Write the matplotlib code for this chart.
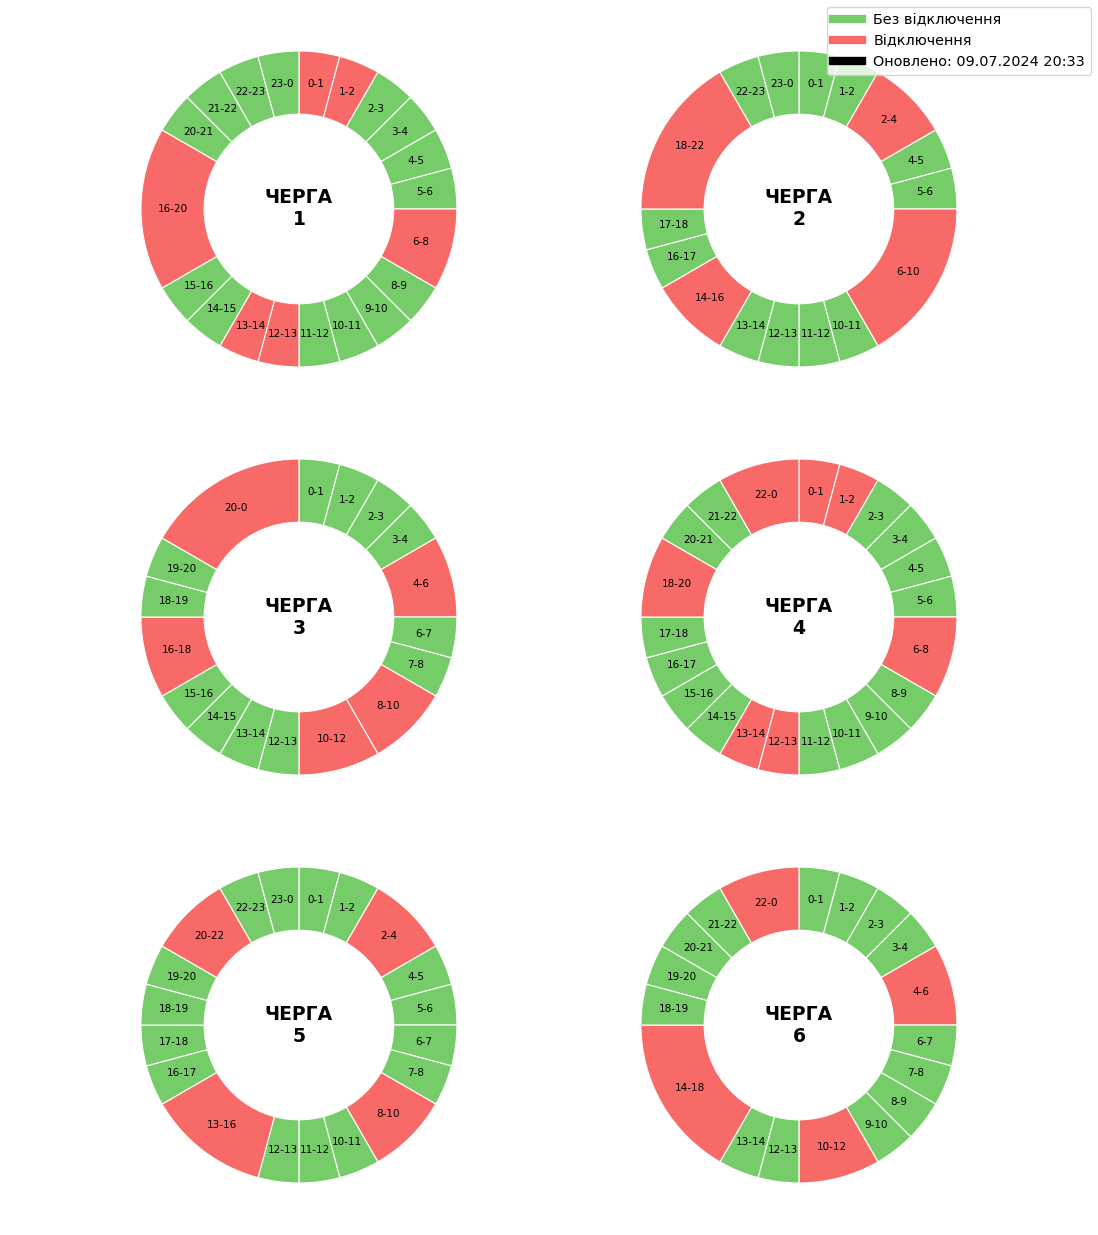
import matplotlib.pyplot as plt
from matplotlib.lines import Line2D

GREEN = '#77cc6a'
RED = '#f76a67'

# (label, hours, off) for every queue; off = 1 means outage
queue1_labels = ['0-1', '1-2', '2-3', '3-4', '4-5', '5-6', '6-8', '8-9', '9-10', '10-11', '11-12',
                 '12-13', '13-14', '14-15', '15-16', '16-20', '20-21', '21-22', '22-23', '23-0']
queue1_hours = [1, 1, 1, 1, 1, 1, 2, 1, 1, 1, 1, 1, 1, 1, 1, 4, 1, 1, 1, 1]
queue1_off = [1, 1, 0, 0, 0, 0, 1, 0, 0, 0, 0, 1, 1, 0, 0, 1, 0, 0, 0, 0]

queue2_labels = ['0-1', '1-2', '2-4', '4-5', '5-6', '6-10', '10-11', '11-12', '12-13', '13-14',
                 '14-16', '16-17', '17-18', '18-22', '22-23', '23-0']
queue2_hours = [1, 1, 2, 1, 1, 4, 1, 1, 1, 1, 2, 1, 1, 4, 1, 1]
queue2_off = [0, 0, 1, 0, 0, 1, 0, 0, 0, 0, 1, 0, 0, 1, 0, 0]

queue3_labels = ['0-1', '1-2', '2-3', '3-4', '4-6', '6-7', '7-8', '8-10', '10-12', '12-13',
                 '13-14', '14-15', '15-16', '16-18', '18-19', '19-20', '20-0']
queue3_hours = [1, 1, 1, 1, 2, 1, 1, 2, 2, 1, 1, 1, 1, 2, 1, 1, 4]
queue3_off = [0, 0, 0, 0, 1, 0, 0, 1, 1, 0, 0, 0, 0, 1, 0, 0, 1]

queue4_labels = ['0-1', '1-2', '2-3', '3-4', '4-5', '5-6', '6-8', '8-9', '9-10', '10-11', '11-12',
                 '12-13', '13-14', '14-15', '15-16', '16-17', '17-18', '18-20', '20-21', '21-22', '22-0']
queue4_hours = [1, 1, 1, 1, 1, 1, 2, 1, 1, 1, 1, 1, 1, 1, 1, 1, 1, 2, 1, 1, 2]
queue4_off = [1, 1, 0, 0, 0, 0, 1, 0, 0, 0, 0, 1, 1, 0, 0, 0, 0, 1, 0, 0, 1]

queue5_labels = ['0-1', '1-2', '2-4', '4-5', '5-6', '6-7', '7-8', '8-10', '10-11', '11-12', '12-13',
                 '13-16', '16-17', '17-18', '18-19', '19-20', '20-22', '22-23', '23-0']
queue5_hours = [1, 1, 2, 1, 1, 1, 1, 2, 1, 1, 1, 3, 1, 1, 1, 1, 2, 1, 1]
queue5_off = [0, 0, 1, 0, 0, 0, 0, 1, 0, 0, 0, 1, 0, 0, 0, 0, 1, 0, 0]

queue6_labels = ['0-1', '1-2', '2-3', '3-4', '4-6', '6-7', '7-8', '8-9', '9-10', '10-12', '12-13',
                 '13-14', '14-18', '18-19', '19-20', '20-21', '21-22', '22-0']
queue6_hours = [1, 1, 1, 1, 2, 1, 1, 1, 1, 2, 1, 1, 4, 1, 1, 1, 1, 2]
queue6_off = [0, 0, 0, 0, 1, 0, 0, 0, 0, 1, 0, 0, 1, 0, 0, 0, 0, 1]

queues = [
    (queue1_labels, queue1_hours, queue1_off),
    (queue2_labels, queue2_hours, queue2_off),
    (queue3_labels, queue3_hours, queue3_off),
    (queue4_labels, queue4_hours, queue4_off),
    (queue5_labels, queue5_hours, queue5_off),
    (queue6_labels, queue6_hours, queue6_off),
]
updated = '09.07.2024 20:33'

fig, axes = plt.subplots(3, 2, figsize=(10.98, 12.35), dpi=100)
plt.subplots_adjust(left=0.0924, right=0.9075, bottom=0.0101, top=0.9907, wspace=0.266, hspace=0.033)

for i, (ax, (labels, hours, off)) in enumerate(zip(axes.flat, queues)):
    colors = [RED if o else GREEN for o in off]
    wedges, texts = ax.pie(hours, labels=labels, colors=colors, startangle=90, counterclock=False,
                           labeldistance=0.8, wedgeprops=dict(width=0.4, edgecolor='white', linewidth=0.8),
                           textprops=dict(fontsize=7.5, ha='center', va='center'))
    ax.text(0, 0, 'ЧЕРГА\n' + str(i + 1), ha='center', va='center', fontsize=13.5,
            fontweight='bold')

handles = [Line2D([0], [0], color=GREEN, lw=6),
           Line2D([0], [0], color=RED, lw=6),
           Line2D([0], [0], color='black', lw=6)]
fig.legend(handles, ['Без відключення', 'Відключення', 'Оновлено: ' + updated],
           loc='upper right', fontsize=10.4, borderaxespad=0.5)

plt.savefig('out.png')
